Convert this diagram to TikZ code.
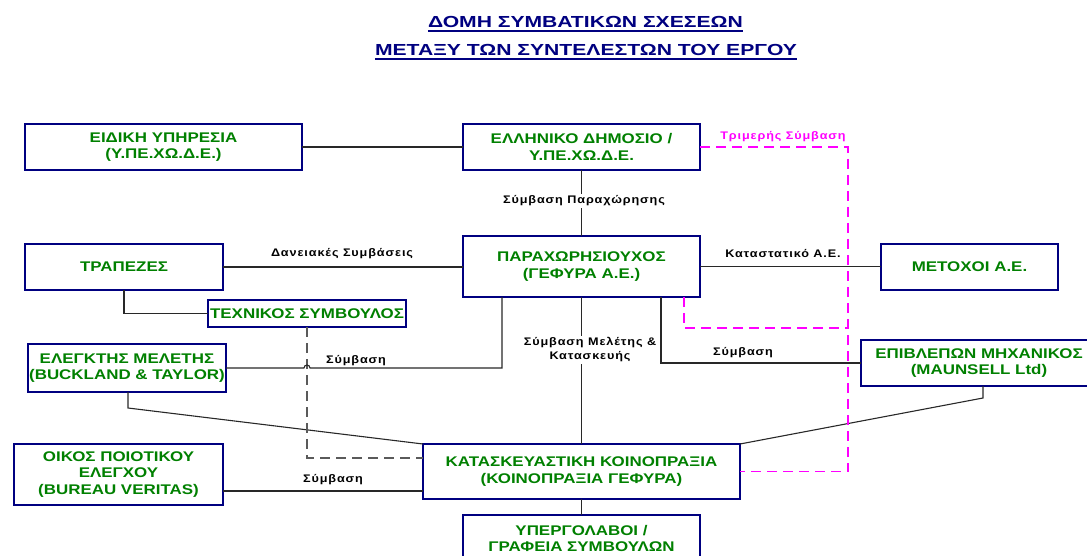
\documentclass[tikz,border=0pt]{standalone}
\usepackage{fontspec}
\setmainfont{Liberation Sans}
\newfontfamily\boxf[FakeStretch=1.21]{Liberation Sans}
\newfontfamily\labf[FakeStretch=1.15,LetterSpace=8]{Liberation Sans}
\newfontfamily\titf[FakeStretch=1.32]{Liberation Sans}
\definecolor{navyc}{RGB}{0,0,128}
\definecolor{greenc}{RGB}{0,128,0}
\definecolor{linec}{RGB}{40,40,40}
\definecolor{dashc}{RGB}{90,90,90}
\definecolor{magc}{RGB}{255,0,255}
\begin{document}
\begin{tikzpicture}[x=1pt,y=-1pt,
  box/.style={draw=navyc, line width=2.6pt, fill=white, text=greenc,
    font=\boxf\bfseries\fontsize{14}{16.5}\selectfont, align=center,
    inner sep=0pt, outer sep=0pt},
  lab/.style={font=\labf\bfseries\fontsize{11}{14}\selectfont, align=center, inner sep=1.5pt, text=black},
  conn/.style={draw=linec, line width=1.1pt},
  gdash/.style={draw=dashc, line width=1.3pt, dash pattern=on 10pt off 6pt},
  tri/.style={draw=magc, line width=1.3pt, dash pattern=on 10pt off 6pt},
  ttl/.style={font=\titf\bfseries\fontsize{16}{18}\selectfont, text=navyc, inner sep=0pt}]
\useasboundingbox (0,0) rectangle (1087,556);
\clip (0,0) rectangle (1087,556);

% title
\node[ttl, anchor=base] (t1) at (585.5,28) {ΔΟΜΗ ΣΥΜΒΑΤΙΚΩΝ ΣΧΕΣΕΩΝ};
\node[ttl, anchor=base] (t2) at (586,56) {ΜΕΤΑΞΥ ΤΩΝ ΣΥΝΤΕΛΕΣΤΩΝ ΤΟΥ ΕΡΓΟΥ};
\draw[navyc, line width=1.5pt] ([yshift=-3pt]t1.base west) -- ([yshift=-3pt]t1.base east);
\draw[navyc, line width=1.5pt] ([yshift=-3pt]t2.base west) -- ([yshift=-3pt]t2.base east);

% helper coordinates
\coordinate (mx) at (848,0);
\coordinate (p502) at (502,297);
\coordinate (p661) at (661,297);
\coordinate (p684) at (684,297);
\coordinate (m3) at (848,328);
\coordinate (tb) at (124,290);
\coordinate (gs) at (307,327);
\coordinate (g2) at (423,458);
\coordinate (o1) at (223,491);
\coordinate (e1) at (128,392);
\coordinate (e2) at (128,408);
\coordinate (v1) at (983,386);
\coordinate (v2) at (983,398);
\coordinate (h1) at (304,368);

% boxes
\node[box, minimum width=277, minimum height=46] (eidiki) at (163.5,147) {ΕΙΔΙΚΗ ΥΠΗΡΕΣΙΑ\\(Υ.ΠΕ.ΧΩ.Δ.Ε.)};
\node[box, minimum width=237, minimum height=46] (ellin) at (581.5,147) {ΕΛΛΗΝΙΚΟ ΔΗΜΟΣΙΟ /\\Υ.ΠΕ.ΧΩ.Δ.Ε.};
\node[box, minimum width=198, minimum height=46] (trap) at (124,267) {ΤΡΑΠΕΖΕΣ};
\node[box, minimum width=237, minimum height=61] (parax) at (581.5,266.5) {ΠΑΡΑΧΩΡΗΣΙΟΥΧΟΣ\\(ΓΕΦΥΡΑ Α.Ε.)};
\node[box, minimum width=177, minimum height=46] (metox) at (969.5,267) {ΜΕΤΟΧΟΙ Α.Ε.};
\node[box, minimum width=198, minimum height=27] (texn) at (307,313.5) {ΤΕΧΝΙΚΟΣ ΣΥΜΒΟΥΛΟΣ};
\node[box, minimum width=198, minimum height=48] (elegk) at (127,368) {ΕΛΕΓΚΤΗΣ ΜΕΛΕΤΗΣ\\(BUCKLAND \& TAYLOR)};
\node[box, minimum width=236, minimum height=46] (epivl) at (979,363) {ΕΠΙΒΛΕΠΩΝ ΜΗΧΑΝΙΚΟΣ\\(MAUNSELL Ltd)};
\node[box, minimum width=209, minimum height=61] (oikos) at (118.5,474.5) {ΟΙΚΟΣ ΠΟΙΟΤΙΚΟΥ\\ΕΛΕΓΧΟΥ\\(BUREAU VERITAS)};
\node[box, minimum width=317, minimum height=55] (kata) at (581.5,471.5) {ΚΑΤΑΣΚΕΥΑΣΤΙΚΗ ΚΟΙΝΟΠΡΑΞΙΑ\\(ΚΟΙΝΟΠΡΑΞΙΑ ΓΕΦΥΡΑ)};
\node[box, minimum width=237, minimum height=47] (yperg) at (581.5,538.5) {ΥΠΕΡΓΟΛΑΒΟΙ /\\ΓΡΑΦΕΙΑ ΣΥΜΒΟΥΛΩΝ};

% connectors
\draw[conn] (eidiki.east) -- (ellin.west);
\draw[conn] (ellin.south) -- (parax.north);
\draw[conn] (trap.east) -- (trap.east -| parax.west);
\draw[conn] (parax.east) -- (parax.east -| metox.west);
\draw[conn] (tb) |- (texn.west);
\draw[conn] (parax.south) -- (kata.north);
\draw[conn] (p661) |- (epivl.west);
\draw[conn] (e1) -- (e2) -- (kata.north west);
\draw[conn] (kata.north east) -- (v2) -- (v1);
\draw[conn] (o1) -- (o1 -| kata.west);
\draw[conn] (kata.south) -- (yperg.north);
\draw[gdash] (gs) |- (g2);
\draw[conn] (elegk.east) -- (h1) arc[start angle=180, end angle=360, radius=3] -- (h1 -| p502) -- (p502);
\draw[tri] (ellin.east) -| (mx |- kata.east) -- (kata.east);
\draw[tri] (p684) |- (m3);

% labels
\node[lab, fill=white] (l1) at (584,201) {Σύμβαση Παραχώρησης};
\node[lab] (l2) at (342,254) {Δανειακές Συμβάσεις};
\node[lab] (l3) at (783,254) {Καταστατικό Α.Ε.};
\node[lab, text=magc] (l4) at (783,137) {Τριμερής Σύμβαση};
\node[lab] (l5) at (356,361) {Σύμβαση};
\node[lab, fill=white] (l6) at (590,350) {Σύμβαση Μελέτης \&\\Κατασκευής};
\node[lab] (l7) at (743,353) {Σύμβαση};
\node[lab] (l8) at (333,480) {Σύμβαση};
\end{tikzpicture}
\end{document}
